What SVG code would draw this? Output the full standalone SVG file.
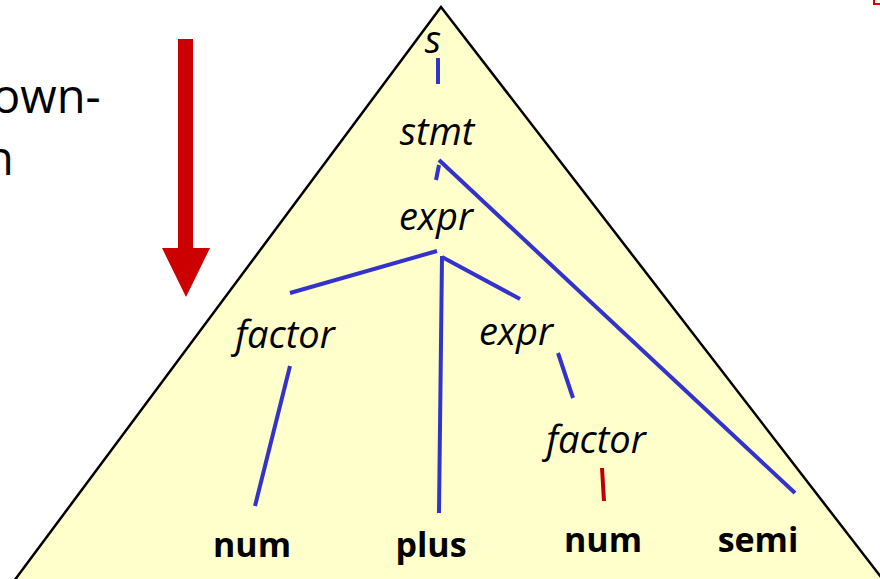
<svg xmlns="http://www.w3.org/2000/svg" width="880" height="579" viewBox="0 0 880 579">
<style>
.nt{font-family:"Open Sans","Liberation Sans",sans-serif;font-style:italic;font-size:38px;fill:#000;text-anchor:middle}
.t{font-family:"Open Sans","Liberation Sans",sans-serif;font-weight:bold;font-size:34px;fill:#000;text-anchor:middle}
.side{font-family:"Open Sans","Liberation Sans",sans-serif;font-size:47px;fill:#000}
.e{stroke:#3333CC;stroke-width:4;fill:none;stroke-linecap:butt}
.er{stroke:#C00000;stroke-width:4;fill:none}
</style>
<rect width="880" height="579" fill="#fff"/>
<text class="side" x="-8" y="113">own-</text>
<text class="side" x="-15" y="175">n</text>
<polyline points="874,0 874,4 880,4" fill="none" stroke="#E00000" stroke-width="2"/>
<g id="arrow">
<polygon points="178,39 193,39 193,248 210,248 186,297 162,248 178,248" fill="#CC0000"/>
</g>
<g id="tree-triangle">
<polygon points="441,7 14,581 884,581" fill="#FFFFCC" stroke="#000" stroke-width="2.5" stroke-linejoin="miter"/>
</g>
<g id="connectors">
<line class="e" x1="438" y1="58" x2="438" y2="84"/>
<line class="e" x1="439" y1="165" x2="436" y2="180"/>
<line class="e" x1="439" y1="160" x2="795" y2="493"/>
<line class="e" x1="437" y1="251" x2="290" y2="293"/>
<line class="e" x1="442" y1="256" x2="439" y2="513"/>
<line class="e" x1="442" y1="257" x2="520" y2="299"/>
<line class="e" x1="290" y1="366" x2="255" y2="506"/>
<line class="e" x1="558" y1="353" x2="573" y2="398"/>
<line class="er" x1="602" y1="468" x2="604" y2="501"/>
</g>
<g id="n-s"><text class="nt" x="433" y="53">s</text></g>
<g id="n-stmt"><text class="nt" x="437" y="145">stmt</text></g>
<g id="n-expr1"><text class="nt" x="436" y="230">expr</text></g>
<g id="n-factor1"><text class="nt" x="285" y="348">factor</text></g>
<g id="n-expr2"><text class="nt" x="516" y="345">expr</text></g>
<g id="n-factor2"><text class="nt" x="596" y="453">factor</text></g>
<g id="n-num1"><text class="t" x="252" y="557">num</text></g>
<g id="n-plus"><text class="t" x="431" y="557">plus</text></g>
<g id="n-num2"><text class="t" x="603" y="552">num</text></g>
<g id="n-semi"><text class="t" x="758" y="552">semi</text></g>
</svg>
